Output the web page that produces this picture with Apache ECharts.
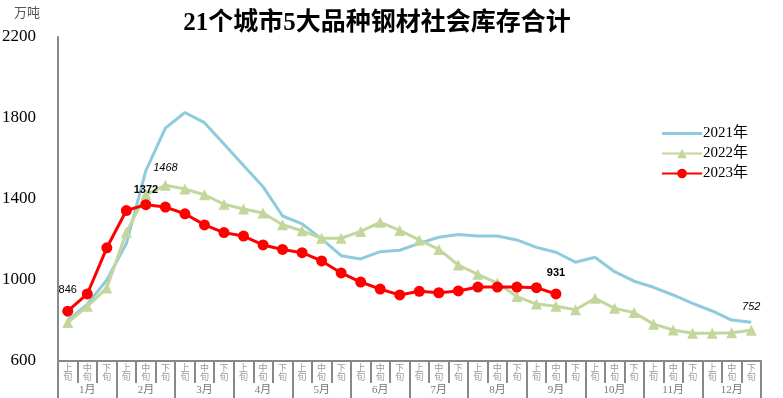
<!DOCTYPE html>
<html><head><meta charset="utf-8">
<script src="https://cdn.jsdelivr.net/npm/echarts@6/dist/echarts.min.js"></script>
<style>html,body{margin:0;padding:0;background:#fff}#c{width:783px;height:398px}</style>
</head><body><div id="c"></div>
<script>
const titleText = '21个城市5大品种钢材社会库存合计';
const unitText = '万吨';
const months = ['1月','2月','3月','4月','5月','6月','7月','8月','9月','10月','11月','12月'];
const tenDays = ['上旬','中旬','下旬'];
const seriesNames = ['2021年','2022年','2023年'];
const values2021 = [800, 880, 1000, 1180, 1540, 1750, 1827, 1777, 1672, 1565, 1461, 1316, 1277, 1203, 1120, 1104, 1140, 1147, 1181, 1211, 1225, 1217, 1217, 1198, 1161, 1137, 1088, 1112, 1041, 994, 964, 926, 885, 847, 802, 791];
const values2022 = [790, 870, 960, 1236, 1422, 1468, 1449, 1421, 1374, 1351, 1331, 1273, 1243, 1206, 1206, 1240, 1285, 1245, 1198, 1151, 1074, 1028, 985, 918, 881, 870, 853, 910, 860, 839, 782, 753, 737, 737, 740, 752];
const values2023 = [846, 931, 1159, 1343, 1372, 1360, 1327, 1272, 1234, 1217, 1173, 1151, 1135, 1094, 1035, 990, 955, 926, 944, 937, 946, 965, 965, 965, 962, 931];
const yTicks = [600, 1000, 1400, 1800, 2200];
const labeled2021 = [6];
const labeled2022 = [5, 35];
const labeled2023 = [0, 4, 25];

const categories = [];
months.forEach(() => tenDays.forEach(t => categories.push(t)));

function withLabels(values, idxs, style) {
  return values.map((v, i) => {
    if (idxs.indexOf(i) < 0) return v;
    const s = typeof style === 'function' ? style(i) : style;
    return { value: v, label: Object.assign({ show: true, position: 'top', distance: 8, color: '#000', fontSize: 11, fontFamily: 'Liberation Sans, Arial, sans-serif', formatter: '{c}' }, s) };
  });
}

const serif = 'Liberation Serif, Times New Roman, Noto Sans CJK SC, serif';
const chart = echarts.init(document.getElementById('c'));
chart.setOption({
  backgroundColor: '#fff',
  animation: false,
  title: {
    text: titleText, left: 372, top: 6, textAlign: 'center',
    textStyle: { fontFamily: serif, fontSize: 25, fontWeight: 'bold', color: '#000' }
  },
  graphic: [{ type: 'text', left: 14, top: 7, style: { text: unitText, fontFamily: serif, fontSize: 13, fill: '#555' } }],
  legend: {
    orient: 'vertical', left: 656, top: 121, itemWidth: 40, itemHeight: 12, itemGap: 5,
    data: [
      { name: seriesNames[0], icon: 'path://M0,0H40V3H0Z' },
      { name: seriesNames[1] },
      { name: seriesNames[2] }
    ],
    textStyle: { fontFamily: serif, fontSize: 15, color: '#000', padding: [0, 0, 0, -4] }
  },
  grid: { left: 58, right: 22, top: 37, bottom: 37, containLabel: false, outerBoundsMode: 'none' },
  xAxis: [
    {
      type: 'category', data: categories, position: 'bottom', boundaryGap: true,
      axisLine: { lineStyle: { color: '#888', width: 2 } },
      axisTick: { show: true, alignWithLabel: false, interval: 0, length: 22, lineStyle: { color: '#888', width: 2 } },
      axisLabel: { interval: 0, margin: 3, fontFamily: serif, fontSize: 9, lineHeight: 9, color: '#999',
        formatter: v => v.split('').join('\n') }
    },
    {
      type: 'category', data: months, position: 'bottom', boundaryGap: true,
      axisLine: { show: false },
      axisTick: { show: true, alignWithLabel: false, interval: 0, length: 40, lineStyle: { color: '#888', width: 2 } },
      axisLabel: { interval: 0, margin: 24, fontFamily: serif, fontSize: 11, color: '#777' }
    }
  ],
  yAxis: {
    type: 'value', min: yTicks[0], max: yTicks[yTicks.length - 1], interval: yTicks[1] - yTicks[0],
    axisLine: { show: true, lineStyle: { color: '#888', width: 2 } },
    axisTick: { show: false },
    splitLine: { show: false },
    axisLabel: { margin: 22, fontFamily: serif, fontSize: 17, color: '#000', formatter: v => String(v) }
  },
  series: [
    {
      name: seriesNames[0], type: 'line', xAxisIndex: 0, symbol: 'none',
      lineStyle: { color: '#8ECBDD', width: 3 }, itemStyle: { color: '#8ECBDD' },
      data: withLabels(values2021, labeled2021, { distance: 6 }), z: 2
    },
    {
      name: seriesNames[1], type: 'line', xAxisIndex: 0, symbol: 'triangle', symbolSize: 11, showSymbol: true,
      lineStyle: { color: '#C3D69B', width: 3 }, itemStyle: { color: '#C3D69B' },
      data: withLabels(values2022, labeled2022, i => ({ fontStyle: 'italic', distance: i === 35 ? 12 : 6 })), z: 3
    },
    {
      name: seriesNames[2], type: 'line', xAxisIndex: 0, symbol: 'circle', symbolSize: 11, showSymbol: true,
      lineStyle: { color: '#FF0000', width: 3 }, itemStyle: { color: '#FF0000' },
      data: withLabels(values2023, labeled2023, i => ({ fontWeight: i === 0 ? 'normal' : 'bold', distance: i === 4 ? 4 : 10 })), z: 4
    }
  ]
});
</script></body></html>
